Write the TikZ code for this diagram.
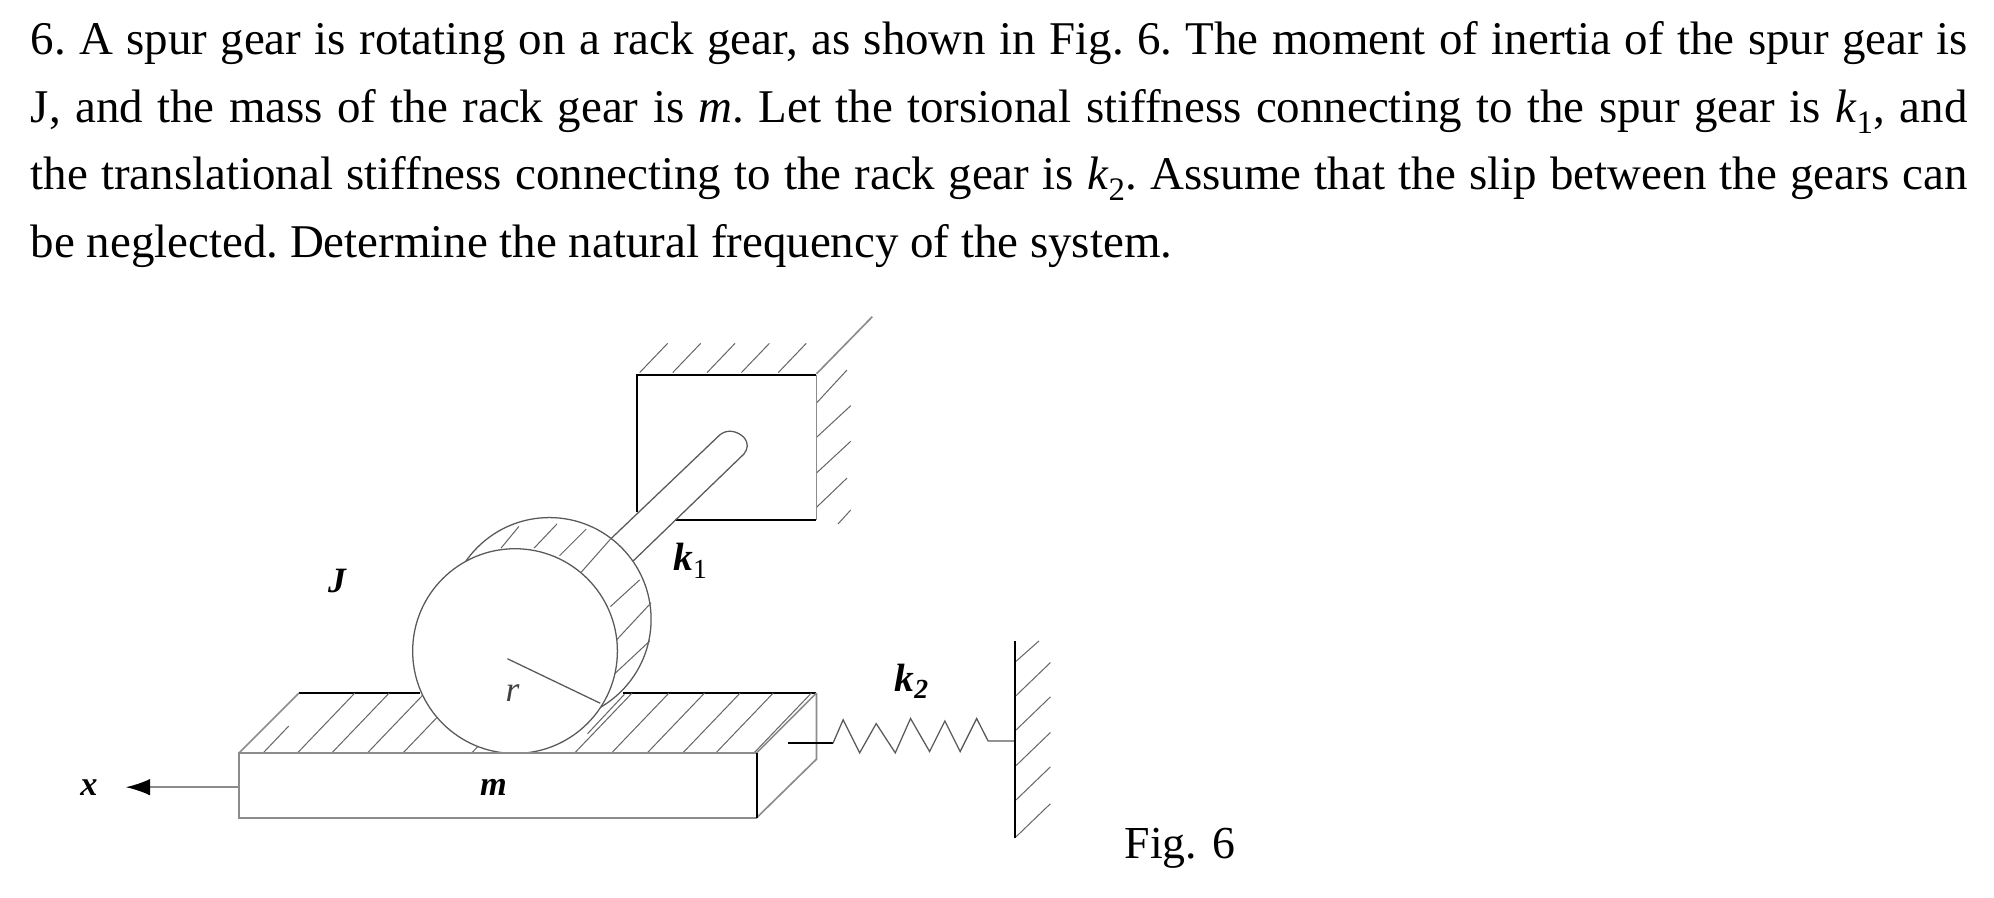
\documentclass[tikz,border=0pt]{standalone}
\usepackage{fontspec}
\setmainfont{Liberation Serif}
\usetikzlibrary{arrows.meta}
\tikzset{
	wallline/.style  = {black, line width=1.5pt},
	grayline/.style  = {black!45, line width=1.3pt},
	hatchline/.style = {black!60, line width=0.8pt},
	gearline/.style  = {black!65, line width=1pt},
	lbl/.style       = {inner sep=0pt, font=\fontsize{31}{31}\selectfont\bfseries\itshape}
}
\begin{document}
\begin{tikzpicture}[x=1pt,y=-1pt]
	\useasboundingbox (0,0) rectangle (1568,705.4);

	\node (question) [anchor=north west, inner sep=0pt, text width=1523pt, align=justify,
		font=\fontsize{36.9}{53}\selectfont\frenchspacing] at (24,17)
		{6. A spur gear is rotating on a rack gear, as shown in Fig. 6. The moment of inertia of the spur gear is\linebreak
		J, and the mass of the rack gear is \textit{m}. Let the torsional stiffness connecting to the spur gear is \textit{k}\textsubscript{1}, and\linebreak
		the translational stiffness connecting to the rack gear is \textit{k}\textsubscript{2}. Assume that the slip between the gears can\linebreak
		be neglected. Determine the natural frequency of the system.};

	% fixed block and its hatching
	\foreach \hx in {503,529,556,583,612}
		\draw [hatchline] (\hx,293) -- ++(22,-23);
	\draw [grayline] (642,294) -- (686,249);
	\draw [hatchline] (642,317) -- (666,291);
	\draw [hatchline] (642,344) -- (669,319);
	\draw [hatchline] (642,372) -- (669,347);
	\draw [hatchline] (642,399) -- (666,376);
	\draw [hatchline] (659,412) -- (669,401);
	\draw [wallline] (501,403) -- (501,295) -- (642,295);
	\draw [grayline] (642,295) -- (642,409);
	\draw [wallline] (531,409) -- (642,409);
	\draw [gearline] (480,424) -- (566,342)
		.. controls (572,337) and (580,339) .. (585,344)
		.. controls (589,349) and (588,353) .. (585,357)
		-- (498,441);

	% rack
	\draw [wallline] (235,545) -- (330,545);
	\draw [wallline] (490,545) -- (642,545);
	\draw [grayline] (188,592) -- (235,545);
	\draw [hatchline] (207,592) -- (227,571);
	\foreach \hx in {234,261,289,317,371,452,481,509,537,563,593}
		\draw [hatchline] (\hx,592) -- ++(45,-47);
	\draw [hatchline] (462,577) -- (491,546);
	\draw [grayline] (642,545) -- (642,597) -- (595,643);
	\draw [grayline] (595,592) -- (642,545);

	% gear
	\draw [gearline, fill=white] (432,487) circle [radius=80];
	\draw [hatchline] (394,431) -- (408,414);
	\draw [hatchline] (420,431) -- (438,412);
	\draw [hatchline] (440,437) -- (461,416);
	\draw [hatchline] (457,450) -- (480,424);
	\draw [hatchline] (480,477) -- (503,456);
	\draw [hatchline] (485,503) -- (512,474);
	\draw [hatchline] (481,532) -- (511,504);
	\draw [gearline, fill=white] (405,512) circle [radius=80.5];
	\draw [gearline] (399,518) -- (472,553);

	% mass
	\draw [grayline, fill=white] (595,592) -- (188,592) -- (188,643) -- (595,643);
	\draw [wallline] (595,592) -- (595,643);
	\node (mass) [lbl, font=\fontsize{27}{27}\selectfont\bfseries\itshape] at (388,619) {m};
	\node (xlabel) [lbl, font=\fontsize{27}{27}\selectfont\bfseries\itshape] at (70,619) {x};
	\coordinate (massleft) at (188,619);
	\coordinate (xtip) at (99,619);
	\draw [grayline, {Latex[black,length=19pt,width=13pt]}-] (xtip) -- (massleft);

	% spring and wall
	\coordinate (springstart) at (620,584.5);
	\coordinate (springend) at (798,582.7);
	\draw [wallline] (springstart) -- (655,584.5);
	\draw [gearline] (655,584.5) -- (663,566) -- (676,592) -- (689,569) -- (704,592) -- (716,565)
		-- (731,591) -- (743,567) -- (755,591) -- (768,565) -- (777,582.7) -- (springend);
	\draw [wallline] (798,504) -- (798,659);
	\draw [hatchline] (799,520) -- (817,504);
	\foreach \hy in {547,574,602,629,658}
		\draw [hatchline] (799,\hy) -- ++(27,-26);

	% labels
	\node (inertia) [lbl, font=\fontsize{28}{28}\selectfont\bfseries\itshape] at (265,457) {J};
	\node (radius) [lbl, font=\fontsize{28}{28}\selectfont\itshape, text=black!75] at (403,545) {r};
	\node (kone) [lbl] at (543,441) {k\textsubscript{\normalfont 1}};
	\node (ktwo) [lbl] at (717,536) {k\textsubscript{2}};
	\node (figlabel) [inner sep=0pt, font=\fontsize{36}{40}\selectfont] at (928,667) {Fig. 6};
\end{tikzpicture}
\end{document}
